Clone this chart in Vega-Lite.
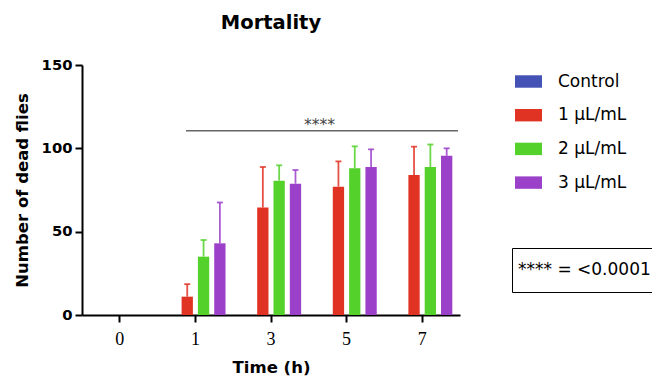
{
  "$schema": "https://vega.github.io/schema/vega-lite/v6.json",
  "width": 378,
  "height": 250,
  "autosize": {"type": "none"},
  "padding": {"left": 82, "top": 65, "right": 192, "bottom": 62},
  "background": "white",
  "title": {"text": "Mortality", "font": "DejaVu Sans", "fontSize": 19.5, "fontWeight": "bold", "color": "black", "anchor": "middle", "offset": 24},
  "config": {
    "view": {"stroke": null},
    "axis": {"domainColor": "black", "domainWidth": 2, "tickColor": "black", "tickWidth": 2, "tickSize": 7, "grid": false, "labelColor": "black", "titleColor": "black", "titleFont": "DejaVu Sans", "titleFontWeight": "bold", "titleFontSize": 16.5}
  },
  "data": {"values": [
    {"time": "0", "group": "Control", "value": 0},
    {"time": "0", "group": "1 µL/mL", "value": 0},
    {"time": "0", "group": "2 µL/mL", "value": 0},
    {"time": "0", "group": "3 µL/mL", "value": 0},
    {"time": "1", "group": "Control", "value": 0},
    {"time": "1", "group": "1 µL/mL", "value": 11, "err": 18.5},
    {"time": "1", "group": "2 µL/mL", "value": 35, "err": 45},
    {"time": "1", "group": "3 µL/mL", "value": 43, "err": 67.5},
    {"time": "3", "group": "Control", "value": 0},
    {"time": "3", "group": "1 µL/mL", "value": 64.5, "err": 88.8},
    {"time": "3", "group": "2 µL/mL", "value": 80.6, "err": 89.8},
    {"time": "3", "group": "3 µL/mL", "value": 78.8, "err": 87},
    {"time": "5", "group": "Control", "value": 0},
    {"time": "5", "group": "1 µL/mL", "value": 77, "err": 92.2},
    {"time": "5", "group": "2 µL/mL", "value": 88, "err": 101.2},
    {"time": "5", "group": "3 µL/mL", "value": 88.8, "err": 99.4},
    {"time": "7", "group": "Control", "value": 0},
    {"time": "7", "group": "1 µL/mL", "value": 84, "err": 101},
    {"time": "7", "group": "2 µL/mL", "value": 88.8, "err": 102.3},
    {"time": "7", "group": "3 µL/mL", "value": 95.5, "err": 100}
  ]},
  "layer": [
    {
      "mark": {"type": "bar", "opacity": 1},
      "encoding": {
        "x": {"field": "time", "type": "ordinal", "scale": {"domain": ["0", "1", "3", "5", "7"], "paddingInner": 0, "paddingOuter": 0},
          "axis": {"title": "Time (h)", "labelAngle": 0, "labelFont": "Liberation Serif", "labelFontSize": 18, "labelPadding": 8, "titlePadding": 11}},
        "xOffset": {"field": "group", "type": "nominal", "scale": {"domain": ["Control", "1 µL/mL", "2 µL/mL", "3 µL/mL"], "paddingInner": 0.307, "paddingOuter": 0.47}},
        "y": {"field": "value", "type": "quantitative", "scale": {"domain": [0, 150], "nice": false, "zero": true},
          "axis": {"title": "Number of dead flies", "values": [0, 50, 100, 150], "labelFont": "DejaVu Sans", "labelFontWeight": "bold", "labelFontSize": 14.8, "labelPadding": 3, "titlePadding": 11}},
        "color": {"field": "group", "type": "nominal",
          "scale": {"domain": ["Control", "1 µL/mL", "2 µL/mL", "3 µL/mL"], "range": ["#4352B4", "#E13323", "#55D12C", "#9B40C9"]},
          "legend": {"title": null, "orient": "none", "legendX": 433, "legendY": 3, "padding": 0,
            "symbolType": "M-1,-0.46L1,-0.46L1,0.46L-1,0.46Z", "symbolSize": 729, "symbolStrokeWidth": 0, "symbolOpacity": 1,
            "labelFont": "DejaVu Sans", "labelFontSize": 17, "labelColor": "black", "labelOffset": 16, "rowPadding": 11.7,
            "encode": {"symbols": {"update": {"opacity": {"value": 1}, "fillOpacity": {"value": 1}}}}}}
      }
    },
    {
      "transform": [{"filter": "isValid(datum.err)"}],
      "mark": {"type": "rule", "strokeWidth": 1.8, "opacity": 0.85},
      "encoding": {
        "x": {"field": "time", "type": "ordinal"},
        "xOffset": {"field": "group", "type": "nominal"},
        "y": {"field": "value", "type": "quantitative", "scale": {"domain": [0, 150], "nice": false}},
        "y2": {"field": "err"},
        "color": {"field": "group", "type": "nominal"}
      }
    },
    {
      "transform": [{"filter": "isValid(datum.err)"}],
      "mark": {"type": "tick", "thickness": 1.8, "opacity": 0.85},
      "encoding": {
        "x": {"field": "time", "type": "ordinal"},
        "xOffset": {"field": "group", "type": "nominal"},
        "y": {"field": "err", "type": "quantitative", "scale": {"domain": [0, 150], "nice": false}},
        "size": {"value": 6},
        "color": {"field": "group", "type": "nominal"}
      }
    },
    {
      "data": {"values": [{"t1": "1", "t2": "7", "y": 110.5, "note": "**** = <0.0001"}]},
      "mark": {"type": "rule", "color": "#666666", "strokeWidth": 1.5},
      "encoding": {
        "x": {"field": "t1", "type": "ordinal", "bandPosition": 0.376},
        "x2": {"field": "t2", "bandPosition": 0.973},
        "y": {"field": "y", "type": "quantitative", "scale": {"domain": [0, 150], "nice": false}},
        "strokeDash": {"field": "note", "type": "nominal", "scale": {"range": [[1, 0]]},
          "legend": {"title": null, "orient": "none", "legendX": 430, "legendY": 183, "padding": 4,
            "symbolType": "M0,-1L0,1", "symbolSize": 1296, "symbolStrokeWidth": 0, "symbolOpacity": 0, "labelOffset": -34,
            "labelFont": "DejaVu Sans", "labelFontSize": 17, "labelColor": "black", "labelLimit": 400,
            "strokeColor": "black", "encode": {"legend": {"update": {"strokeWidth": {"value": 2}}}}}}
      }
    },
    {
      "data": {"values": [{"t": "5", "y": 110.5, "label": "****"}]},
      "mark": {"type": "text", "font": "DejaVu Sans", "fontSize": 15.5, "color": "#444444", "baseline": "alphabetic", "align": "center", "dy": -1},
      "encoding": {
        "x": {"field": "t", "type": "ordinal", "bandPosition": 0.14},
        "y": {"field": "y", "type": "quantitative", "scale": {"domain": [0, 150], "nice": false}},
        "text": {"field": "label"}
      }
    }
  ]
}
